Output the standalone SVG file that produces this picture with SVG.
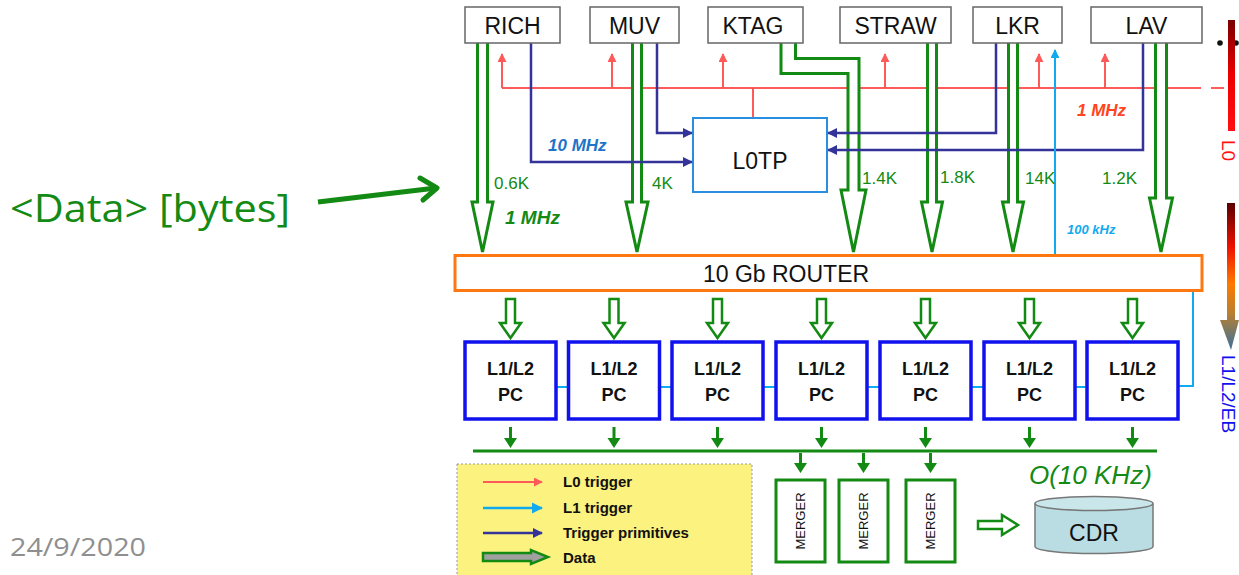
<svg xmlns="http://www.w3.org/2000/svg" width="1239" height="575" viewBox="0 0 1239 575">
<defs>
<style>
.box{fill:#fff;stroke:#666;stroke-width:1.5}
.bt{font-family:"Liberation Sans",Arial,sans-serif;font-size:23px;fill:#111;text-anchor:middle}
.red{stroke:#ff5a5a;stroke-width:2;fill:none}
.pur{stroke:#33339a;stroke-width:2.5;fill:none}
.cyan{stroke:#11aaee;stroke-width:2;fill:none}
.data{fill:#fff;stroke:#138a13;stroke-width:3;stroke-linejoin:miter}
.sdata{fill:#fff;stroke:#138a13;stroke-width:2.5}
.gl{font-family:"Liberation Sans",Arial,sans-serif;font-size:17px;fill:#138a13}
.pc{fill:#fff;stroke:#1111ee;stroke-width:3.5}
.pct{font-family:"Liberation Sans",Arial,sans-serif;font-size:18px;font-weight:bold;fill:#111;text-anchor:middle}
.gbus{stroke:#138a13;stroke-width:3;fill:none}
.gsolid{fill:#138a13}
.merger{fill:#fff;stroke:#138a13;stroke-width:3}
.mt{font-family:"Liberation Sans",Arial,sans-serif;font-size:13px;fill:#111;text-anchor:middle}
.lt{font-family:"Liberation Sans",Arial,sans-serif;font-size:15px;font-weight:bold;fill:#111}
</style>
<marker id="ar" viewBox="0 0 10 10" refX="9" refY="5" markerWidth="4.5" markerHeight="4.5" orient="auto"><path d="M0,0 L10,5 L0,10 z" fill="#ff5a5a"/></marker>
<marker id="ap" viewBox="0 0 10 10" refX="9" refY="5" markerWidth="4" markerHeight="4" orient="auto"><path d="M0,0 L10,5 L0,10 z" fill="#33339a"/></marker>
<marker id="ac" viewBox="0 0 10 10" refX="9" refY="5" markerWidth="4.5" markerHeight="4.5" orient="auto"><path d="M0,0 L10,5 L0,10 z" fill="#11aaee"/></marker>
<linearGradient id="gL0" x1="0" y1="0" x2="0" y2="1"><stop offset="0" stop-color="#7a0000"/><stop offset="0.5" stop-color="#ee0000"/><stop offset="1" stop-color="#ff1111"/></linearGradient>
<linearGradient id="gL1" x1="0" y1="0" x2="0" y2="1"><stop offset="0" stop-color="#5a0000"/><stop offset="0.3" stop-color="#ee1100"/><stop offset="0.55" stop-color="#ff7a00"/><stop offset="0.75" stop-color="#b88030"/><stop offset="1" stop-color="#3a6f9e"/></linearGradient>
</defs>

<!-- left annotation -->
<g id="annotation">
<text x="10" y="222" font-family="'Open Sans','Liberation Sans',sans-serif" font-size="38" fill="#138a13" textLength="280" lengthAdjust="spacingAndGlyphs">&lt;Data&gt; [bytes]</text>
<path d="M318,202 L436,188" stroke="#138a13" stroke-width="5" fill="none"/>
<path d="M420,178 L437,188 L423,200" stroke="#138a13" stroke-width="5" fill="none" stroke-linecap="round" stroke-linejoin="round"/>
<text x="10" y="556" font-family="'Open Sans','Liberation Sans',sans-serif" font-size="26" fill="#8f8f8f" textLength="136" lengthAdjust="spacingAndGlyphs">24/9/2020</text>
</g>

<!-- connectors -->
<g id="connectors">
<!-- L0 trigger (red) -->
<path class="red" d="M502,88 H1201"/>
<path class="red" d="M1211,88 H1224"/>
<path class="red" d="M502,88 V54" marker-end="url(#ar)"/>
<path class="red" d="M612,88 V54" marker-end="url(#ar)"/>
<path class="red" d="M723,88 V54" marker-end="url(#ar)"/>
<path class="red" d="M885,88 V54" marker-end="url(#ar)"/>
<path class="red" d="M1039,88 V54" marker-end="url(#ar)"/>
<path class="red" d="M1105,88 V54" marker-end="url(#ar)"/>
<path class="red" d="M753,88 V118"/>

<!-- data shafts -->
<path class="data" d="M477.5,43 V202 H472 L482.5,252 L493,202 H487.5 V43"/>
<path class="data" d="M632.5,43 V202 H626 L637,252 L648,202 H641.5 V43"/>
<path class="data" d="M781,43 V73.5 H848 V190 H841 L853.5,252 L866,190 H859 V58.5 H795.5 V43"/>
<path class="data" d="M927.5,43 V202 H921.5 L932,252 L942.5,202 H936.5 V43"/>
<path class="data" d="M1008.5,43 V202 H1002.5 L1013,252 L1023.5,202 H1017.5 V43"/>
<path class="data" d="M1155.5,43 V198 H1149.5 L1161,252 L1172.5,198 H1166.5 V43"/>

<!-- trigger primitives (purple) -->
<path class="pur" d="M531,43 V162 H692" marker-end="url(#ap)"/>
<path class="pur" d="M657,43 V133 H692" marker-end="url(#ap)"/>
<path class="pur" d="M996,43 V133 H828" marker-end="url(#ap)"/>
<path class="pur" d="M1143,43 V150 H828" marker-end="url(#ap)"/>

<!-- L1 trigger (cyan) -->
<path class="cyan" d="M1055,255 V50" marker-end="url(#ac)"/>
<path class="cyan" d="M1193,291 V386 H1178"/>
<path class="cyan" d="M556,387 H568.5 M659.5,387 H672 M763,387 H776 M867,387 H880 M971,387 H984 M1075,387 H1087"/>

<!-- router to PCs -->
<g>
<path class="sdata" d="M506,299 V323 H500 L510.5,338 L521,323 H515 V299 z"/>
<path class="sdata" d="M609.5,299 V323 H603.5 L614,338 L624.5,323 H618.5 V299 z"/>
<path class="sdata" d="M713,299 V323 H707 L717.5,338 L728,323 H722 V299 z"/>
<path class="sdata" d="M817,299 V323 H811 L821.5,338 L832,323 H826 V299 z"/>
<path class="sdata" d="M921,299 V323 H915 L925.5,338 L936,323 H930 V299 z"/>
<path class="sdata" d="M1025,299 V323 H1019 L1029.5,338 L1040,323 H1034 V299 z"/>
<path class="sdata" d="M1128,299 V323 H1122 L1132.5,338 L1143,323 H1137 V299 z"/>
</g>

<!-- PCs to bus -->
<path class="gbus" d="M473,451 H1157"/>
<g class="gsolid">
<path d="M509,427 H512 V438 H517 L510.5,448 L504,438 H509 z"/>
<path d="M612.5,427 H615.5 V438 H620.5 L614,448 L607.5,438 H612.5 z"/>
<path d="M716,427 H719 V438 H724 L717.5,448 L711,438 H716 z"/>
<path d="M820,427 H823 V438 H828 L821.5,448 L815,438 H820 z"/>
<path d="M924,427 H927 V438 H932 L925.5,448 L919,438 H924 z"/>
<path d="M1028,427 H1031 V438 H1036 L1029.5,448 L1023,438 H1028 z"/>
<path d="M1131,427 H1134 V438 H1139 L1132.5,448 L1126,438 H1131 z"/>
<path d="M799,453 H802 V463 H807 L800.5,473 L794,463 H799 z"/>
<path d="M862,453 H865 V463 H870 L863.5,473 L857,463 H862 z"/>
<path d="M929,453 H932 V463 H937 L930.5,473 L924,463 H929 z"/>
</g>

<!-- merger to CDR -->
<path class="sdata" d="M978,521 H1002 V515 L1018,525 L1002,535 V529 H978 z"/>
</g>

<!-- rate / size labels -->
<g id="labels">
<text class="gl" x="494" y="189">0.6K</text>
<text class="gl" x="652" y="189">4K</text>
<text class="gl" x="862" y="184">1.4K</text>
<text class="gl" x="940" y="183">1.8K</text>
<text class="gl" x="1025" y="184">14K</text>
<text class="gl" x="1102" y="184">1.2K</text>
<text x="505" y="224" font-family="'Liberation Sans',Arial,sans-serif" font-size="19" font-weight="bold" font-style="italic" fill="#138a13">1 MHz</text>
<text x="548" y="151" font-family="'Liberation Sans',Arial,sans-serif" font-size="17" font-weight="bold" font-style="italic" fill="#1e74c8">10 MHz</text>
<text x="1077" y="116" font-family="'Liberation Sans',Arial,sans-serif" font-size="17" font-weight="bold" font-style="italic" fill="#ff4422">1 MHz</text>
<text x="1067" y="234" font-family="'Liberation Sans',Arial,sans-serif" font-size="13" font-weight="bold" font-style="italic" fill="#11aaee">100 kHz</text>
<text x="1029" y="484" font-family="'Liberation Sans',Arial,sans-serif" font-size="26" font-style="italic" fill="#138a13">O(10 KHz)</text>
</g>

<!-- detector nodes -->
<g id="RICH"><rect class="box" x="465" y="7" width="95" height="36"/><text class="bt" x="512.5" y="34">RICH</text></g>
<g id="MUV"><rect class="box" x="590" y="7" width="89" height="36"/><text class="bt" x="634.5" y="34">MUV</text></g>
<g id="KTAG"><rect class="box" x="708" y="7" width="95" height="36"/><text class="bt" x="753" y="34">KTAG</text></g>
<g id="STRAW"><rect class="box" x="840" y="7" width="111" height="36"/><text class="bt" x="895.5" y="34">STRAW</text></g>
<g id="LKR"><rect class="box" x="973" y="7" width="89" height="36"/><text class="bt" x="1017.5" y="34">LKR</text></g>
<g id="LAV"><rect class="box" x="1091" y="7" width="111" height="36"/><text class="bt" x="1146.5" y="34">LAV</text></g>

<g id="L0TP"><rect x="693" y="118" width="134" height="74" fill="#fff" stroke="#2a8ee0" stroke-width="2"/><text class="bt" x="760" y="169">L0TP</text></g>

<g id="router"><rect x="455" y="255.5" width="747" height="35" fill="#fff" stroke="#ff7711" stroke-width="3"/><text class="bt" x="786" y="282" font-size="24">10 Gb ROUTER</text></g>

<g id="pc1"><rect class="pc" x="465" y="342" width="91" height="77"/><text class="pct" x="510.5" y="375">L1/L2</text><text class="pct" x="510.5" y="401">PC</text></g>
<g id="pc2"><rect class="pc" x="568.5" y="342" width="91" height="77"/><text class="pct" x="614" y="375">L1/L2</text><text class="pct" x="614" y="401">PC</text></g>
<g id="pc3"><rect class="pc" x="672" y="342" width="91" height="77"/><text class="pct" x="717.5" y="375">L1/L2</text><text class="pct" x="717.5" y="401">PC</text></g>
<g id="pc4"><rect class="pc" x="776" y="342" width="91" height="77"/><text class="pct" x="821.5" y="375">L1/L2</text><text class="pct" x="821.5" y="401">PC</text></g>
<g id="pc5"><rect class="pc" x="880" y="342" width="91" height="77"/><text class="pct" x="925.5" y="375">L1/L2</text><text class="pct" x="925.5" y="401">PC</text></g>
<g id="pc6"><rect class="pc" x="984" y="342" width="91" height="77"/><text class="pct" x="1029.5" y="375">L1/L2</text><text class="pct" x="1029.5" y="401">PC</text></g>
<g id="pc7"><rect class="pc" x="1087" y="342" width="91" height="77"/><text class="pct" x="1132.5" y="375">L1/L2</text><text class="pct" x="1132.5" y="401">PC</text></g>

<g id="merger1"><rect class="merger" x="776" y="480" width="49" height="82"/><text class="mt" transform="translate(805,521) rotate(-90)">MERGER</text></g>
<g id="merger2"><rect class="merger" x="839" y="480" width="49" height="82"/><text class="mt" transform="translate(868,521) rotate(-90)">MERGER</text></g>
<g id="merger3"><rect class="merger" x="906" y="480" width="49" height="82"/><text class="mt" transform="translate(935,521) rotate(-90)">MERGER</text></g>

<g id="CDR">
<path d="M1035,503.5 V546.5 A59,7 0 0 0 1153,546.5 V503.5" fill="#b9dde3" stroke="#777" stroke-width="1.5"/>
<ellipse cx="1094" cy="503.5" rx="59" ry="7" fill="#c9e6ea" stroke="#777" stroke-width="1.5"/>
<text class="bt" x="1094" y="541" font-size="24">CDR</text>
</g>

<g id="legend">
<rect x="457" y="464" width="295" height="120" fill="#fcf27f" stroke="#999" stroke-width="1" stroke-dasharray="2,2"/>
<path d="M483,482 H542" stroke="#ff5a5a" stroke-width="2" marker-end="url(#ar)"/>
<path d="M483,508 H542" stroke="#11aaee" stroke-width="2.5" marker-end="url(#ac)"/>
<path d="M483,533 H542" stroke="#33339a" stroke-width="2.5" marker-end="url(#ap)"/>
<path d="M483,553 H531 V550 L548,557 L531,564 V561 H483 z" fill="#a0a0a0" stroke="#138a13" stroke-width="2.5"/>
<text class="lt" x="563" y="487">L0 trigger</text>
<text class="lt" x="563" y="513">L1 trigger</text>
<text class="lt" x="563" y="538">Trigger primitives</text>
<text class="lt" x="563" y="563">Data</text>
</g>

<g id="levels">
<circle cx="1220" cy="43" r="2.8" fill="#111"/>
<circle cx="1236" cy="43" r="2.8" fill="#111"/>
<rect x="1228" y="20" width="7" height="111" fill="url(#gL0)"/>
<text x="1227" y="140" font-family="'Liberation Sans',Arial,sans-serif" font-size="19" fill="#ff1111" transform="rotate(90 1227 140)" dominant-baseline="middle">L0</text>
<path d="M1227,203 H1235 V320 H1239 L1231,350 L1220,320 H1227 z" fill="url(#gL1)"/>
<text x="1227" y="355" font-family="'Liberation Sans',Arial,sans-serif" font-size="19" fill="#1111ee" transform="rotate(90 1227 355)" dominant-baseline="middle">L1/L2/EB</text>
</g>
</svg>
